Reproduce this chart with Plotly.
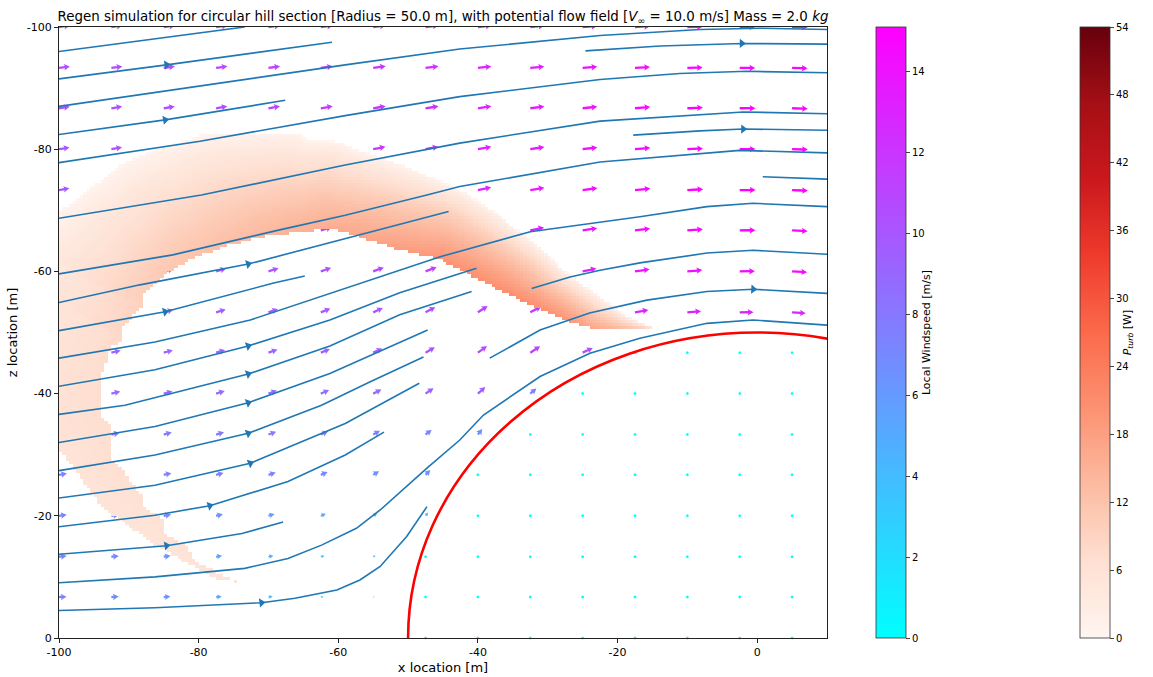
import numpy as np
import plotly.graph_objects as go

# ---------------- figure geometry ----------------
FIG_W, FIG_H = 1153, 677
MARGIN = dict(l=59, r=326, t=27, b=39)
X_MIN, X_MAX = -100.0, 10.0
Z_BOTTOM, Z_TOP = 0.0, -100.0
PLOT_W = FIG_W - MARGIN["l"] - MARGIN["r"]
PLOT_H = FIG_H - MARGIN["t"] - MARGIN["b"]
PX_X = PLOT_W / (X_MAX - X_MIN)      # screen pixels per metre (x)
PX_Z = PLOT_H / (Z_BOTTOM - Z_TOP)   # screen pixels per metre (z)

# ---------------- scenario ----------------
HILL_RADIUS = 50.0
V_INF = 10.0
MASS = 2.0
WIND_MAX = 15.11
POWER_MAX = 54.0

# ---------------- wind vectors (quiver grid) ----------------
grid_x = [-100.0, -92.5, -85.0, -77.5, -70.0, -62.5, -55.0, -47.5, -40.0,
          -32.5, -25.0, -17.5, -10.0, -2.5, 5.0]
grid_z = [-100.0, -93.3, -86.7, -80.0, -73.3, -66.7, -60.0, -53.3, -46.7,
          -40.0, -33.3, -26.7, -20.0, -13.3, -6.7, 0.0]

N = None
# local wind speed [m/s] per grid node (rows follow grid_z, columns grid_x)
wind_speed = [
    [10.5, 10.6, 10.8, 11.0, 11.3, 11.6, 12.0, 12.4, 12.9, 13.4, 13.9, 14.3, 14.6, 14.7, 14.7],
    [10.4, 10.5, 10.7, 10.9, 11.2, 11.5, 12.0, 12.4, 12.9, 13.4, 13.9, 14.3, 14.6, 14.7, 14.7],
    [10.3, 10.4, 10.6, 10.8, 11.1, 11.5, 12.0, 12.5, 13.0, 13.5, 14.0, 14.5, 14.8, 14.9, 14.9],
    [10.1, 10.3, 10.5, 10.7, 11.0, 11.4, 11.9, 12.4, 13.0, 13.6, 14.1, 14.6, 14.9, 15.0, 15.0],
    [10.0, 10.1, 10.3, 10.5, 10.8, 11.2, 11.7, 12.3, 12.9, 13.6, 14.2, 14.7, 15.0, 15.1, 15.0],
    [9.8, 9.9, 10.0, 10.2, 10.5, 10.9, 11.4, 12.0, 12.7, 13.4, 14.0, 14.5, 14.8, 14.9, 14.8],
    [9.6, 9.7, 9.8, 9.9, 10.1, 10.4, 10.8, 11.3, 11.9, 12.7, 13.4, 14.0, 14.3, 14.4, 14.3],
    [9.4, 9.4, 9.4, 9.5, 9.6, 9.8, 10.1, 10.5, 11.0, 11.8, 12.4, 12.9, 13.1, 13.1, 13.0],
    [9.0, 9.0, 9.0, 9.0, 9.1, 9.3, 9.6, 10.2, 10.6, 11.2, 10.6, 0, 0, 0, 0],
    [8.7, 8.7, 8.7, 8.6, 8.6, 8.6, 8.8, 9.2, 9.5, 7.6, 0, 0, 0, 0, 0],
    [8.0, 8.0, 7.9, 7.9, 7.8, 7.6, 7.4, 7.3, 6.8, 0, 0, 0, 0, 0, 0],
    [7.6, 7.6, 7.5, 7.4, 7.3, 7.0, 6.6, 6.5, 0, 0, 0, 0, 0, 0, 0],
    [7.4, 7.3, 7.1, 6.6, 6.0, 5.2, 4.5, 4.0, 0, 0, 0, 0, 0, 0, 0],
    [7.3, 7.1, 6.6, 5.7, 4.8, 3.6, 2.6, 0, 0, 0, 0, 0, 0, 0, 0],
    [7.2, 7.0, 6.4, 5.4, 4.0, 2.6, 1.4, 0, 0, 0, 0, 0, 0, 0, 0],
    [N, N, N, N, N, N, N, 0, 0, 0, 0, 0, 0, 0, 0],
]
# wind direction on screen [deg, counter-clockwise from +x]
wind_angle = [
    [7.5, 7.5, 7.5, 7.5, 7.5, 7, 7, 6.5, 6, 5, 4, 3, 1.5, 0, -1],
    [8, 8, 8, 8, 8, 8, 7.5, 7, 6.5, 5.5, 4.5, 3.5, 2, 0, -1.5],
    [8.5, 9, 9.5, 10, 10, 10, 9.5, 9, 8.5, 7.5, 6, 4.5, 2.5, 0.5, -1.5],
    [9.5, 10, 10.5, 11, 11.5, 11.5, 11, 10.5, 10, 9, 7, 5, 3, 0.5, -1.5],
    [10, 11, 12, 12.5, 13, 14, 14, 13.5, 12, 10, 8, 6, 3.5, 0.5, -2],
    [11, 12, 13, 14, 15, 16, 17, 17, 15.5, 12, 9, 7, 4.5, 1, -2.5],
    [12, 13, 14.5, 16, 17.5, 19, 20.5, 21, 19, 16, 12, 8, 5, 1, -3],
    [12, 13.5, 15, 17, 19, 21.5, 24, 28, 33, 28, 18, 10, 5, 0.5, -4],
    [11.5, 13, 15, 17, 19.5, 22, 25, 30, 36, 33, 25, 0, 0, 0, 0],
    [11, 12.5, 14.5, 17, 19.5, 23, 27, 34, 42, 40, 0, 0, 0, 0, 0],
    [10.5, 12, 14, 16.5, 19.5, 23.5, 29, 37, 52, 0, 0, 0, 0, 0, 0],
    [9.5, 10.5, 12.5, 14.5, 18, 23, 31, 45, 0, 0, 0, 0, 0, 0, 0],
    [8, 9, 10.5, 12.5, 15.5, 21, 31, 52, 0, 0, 0, 0, 0, 0, 0],
    [6, 6.5, 7.5, 9, 11.5, 16, 27, 0, 0, 0, 0, 0, 0, 0, 0],
    [3, 3.5, 4, 5, 6, 9, 16, 0, 0, 0, 0, 0, 0, 0, 0],
    [0] * 15,
]

# ---------------- streamlines (x, z) ----------------
sl_01 = [(-100, -96.0), (-87.0, -97.9), (-73.4, -100.0)]
sl_02 = [(-100, -91.5), (-84.6, -93.8), (-60.9, -97.5)]
sl_03 = [(-100, -87.0), (-79.8, -90.4), (-59.0, -93.8), (-42.6, -96.4), (-22.5, -98.6),
         (-8.2, -99.6), (0.4, -99.8), (10.0, -99.6)]
sl_04 = [(-24.6, -96.1), (-13.9, -96.9), (-2.2, -97.3), (10.0, -97.2)]
sl_05 = [(-100, -82.4), (-84.8, -84.8), (-67.6, -88.0)]
sl_06 = [(-100, -77.8), (-79.8, -81.3), (-59.0, -85.5), (-42.6, -88.6), (-22.5, -91.4),
         (-11.1, -92.4), (-1.5, -92.75), (10.0, -92.5)]
sl_07 = [(-100, -68.7), (-79.6, -72.5), (-59.0, -77.4), (-42.6, -81.0), (-22.5, -84.6),
         (-2.0, -86.1), (10.0, -85.8)]
sl_08 = [(-17.75, -82.3), (-8.2, -83.0), (-2.0, -83.3), (10.0, -83.1)]
sl_09 = [(-100, -59.6), (-83.7, -62.7), (-68.4, -66.8), (-59.0, -69.2), (-47.3, -72.5),
         (-42.6, -73.9), (-22.5, -77.9), (-2.5, -79.8), (10.0, -79.4)]
sl_10 = [(0.8, -75.5), (10.0, -75.1)]
sl_11 = [(-100, -54.9), (-88.4, -57.8), (-72.9, -61.2), (-59.0, -65.4), (-44.2, -69.8)]
sl_12 = [(-100, -50.3), (-84.8, -53.4), (-69.4, -58.05), (-64.8, -59.25)]
sl_13 = [(-100, -45.8), (-86.25, -48.45), (-72.6, -52.05), (-61.2, -56.4), (-45.4, -62.4),
         (-32.5, -66.5), (-16.8, -68.95), (-7.2, -70.6), (-0.6, -71.15), (10.0, -70.6)]
sl_14 = [(-100, -41.2), (-86.25, -43.9), (-72.9, -47.8), (-61.2, -52.05), (-51.2, -56.5),
         (-40.2, -60.5)]
sl_15 = [(-100, -36.6), (-90.55, -38.1), (-72.9, -43.2), (-61.2, -47.8), (-51.2, -52.9),
         (-40.9, -56.7)]
sl_16 = [(-100, -32.0), (-86.25, -34.6), (-72.9, -38.5), (-61.2, -43.3), (-47.2, -50.4)]
sl_17 = [(-100, -27.4), (-86.25, -29.95), (-72.9, -33.5), (-62.4, -38.1), (-55.5, -41.9),
         (-47.8, -46.0)]
sl_18 = [(-100, -22.9), (-86.25, -25.0), (-72.6, -28.6), (-59.0, -35.1), (-48.4, -41.7)]
sl_19 = [(-100, -18.2), (-86.25, -20.1), (-78.4, -21.65), (-67.2, -25.6), (-59.0, -29.95),
         (-53.45, -33.7)]
sl_20 = [(-100, -13.7), (-84.6, -15.1), (-73.8, -17.1), (-67.9, -19.0)]
sl_21 = [(-100, -9.05), (-86.25, -10.0), (-73.4, -11.4), (-67.2, -13.0), (-62.4, -15.2),
         (-57.4, -17.95), (-54.0, -20.95), (-50.2, -24.8), (-47.3, -27.8), (-42.6, -32.4),
         (-39.2, -36.5), (-31.1, -42.8), (-23.95, -46.6), (-16.8, -49.05), (-7.2, -51.5),
         (-0.6, -52.05), (10.0, -51.2)]
sl_22 = [(-100, -4.5), (-86.25, -4.96), (-71.0, -5.78), (-66.2, -6.5), (-60.2, -7.86),
         (-56.9, -9.5), (-54.0, -11.7), (-50.2, -16.6), (-47.3, -21.5)]
sl_23 = [(-32.3, -57.2), (-26.8, -59.1), (-22.5, -60.2), (-16.8, -61.4), (-7.2, -63.0),
         (-0.56, -63.45), (10.0, -62.8)]
sl_24 = [(-38.3, -45.8), (-31.1, -50.4), (-24.0, -53.2), (-15.8, -55.3), (-7.2, -56.7),
         (-0.56, -57.07), (10.0, -56.4)]

streamlines = [sl_01, sl_02, sl_03, sl_04, sl_05, sl_06, sl_07, sl_08, sl_09, sl_10, sl_11,
               sl_12, sl_13, sl_14, sl_15, sl_16, sl_17, sl_18, sl_19, sl_20, sl_21, sl_22,
               sl_23, sl_24]
# arrowheads on streamlines: (line, x position)
stream_arrows = [(sl_02, -84.6), (sl_04, -2.2), (sl_05, -84.8), (sl_08, -2.0),
                 (sl_11, -72.9), (sl_12, -84.8), (sl_14, -72.9), (sl_15, -72.9),
                 (sl_16, -72.9), (sl_17, -72.9), (sl_18, -72.6), (sl_19, -78.4),
                 (sl_20, -84.6), (sl_22, -71.0), (sl_24, -0.56)]

# ---------------- turbine power band ----------------
# upper-left edge of the band (left axis -> right tip)
band_outer = [(-100.0, -69.6), (-91.26, -77.4), (-86.0, -79.9), (-78.85, -82.6), (-65.5, -82.6),
              (-64.5, -81.5), (-59.7, -81.2), (-57.9, -80.1), (-50.2, -77.1), (-45.4, -74.9),
              (-41.6, -72.8), (-37.3, -69.5), (-30.6, -63.5), (-27.8, -60.2), (-22.5, -55.9),
              (-18.7, -52.6), (-14.4, -50.5)]
# lower edge of the band (right tip -> bottom of left leg)
band_inner = [(-14.4, -50.5), (-23.9, -50.7), (-27.75, -52.05), (-32.5, -54.5), (-36.4, -56.7),
              (-41.1, -59.4), (-45.4, -61.9), (-48.3, -62.7), (-52.6, -64.0), (-56.9, -65.7),
              (-61.2, -67.05), (-71.0, -65.7), (-75.75, -64.3), (-78.6, -63.0), (-80.5, -62.4),
              (-84.8, -59.4), (-87.9, -56.1), (-87.9, -54.5), (-91.0, -50.7), (-91.0, -48.5),
              (-92.45, -47.95), (-93.9, -43.0), (-94.1, -36.5), (-92.45, -34.9), (-92.45, -29.4),
              (-91.0, -27.8), (-89.6, -25.3), (-87.9, -22.9), (-87.9, -21.5), (-84.8, -19.3),
              (-84.8, -17.1), (-81.7, -14.9), (-80.5, -12.5), (-74.55, -9.2)]
# power reached along the lower edge [W]
band_inner_power = [9, 17, 20, 21, 21, 20.5, 20, 19, 18, 17, 16, 14, 13, 12.5, 12, 11, 10, 9.5,
                    8.5, 8, 7.5, 7.2, 7.0, 6.9, 6.8, 6.7, 6.6, 6.5, 6.4, 6.3, 6.2, 6.1, 6.0, 5.9]
# lower-left edge of the leg
band_leg_edge = [(-76.9, -9.4), (-86.25, -15.2), (-94.1, -21.8), (-100.0, -31.1)]

REDS = [[0.0, "#fff5f0"], [0.125, "#fee0d2"], [0.25, "#fcbba1"], [0.375, "#fc9272"],
        [0.5, "#fb6a4a"], [0.625, "#ef3b2c"], [0.75, "#cb181d"], [0.875, "#a50f15"],
        [1.0, "#67000d"]]
COOL = [[0.0, "rgb(0,255,255)"], [1.0, "rgb(255,0,255)"]]
STREAM_BLUE = "#1f77b4"


def cool(v):
    t = min(max(v / WIND_MAX, 0.0), 1.0)
    return f"rgb({round(255 * t)},{round(255 * (1 - t))},255)"


def arrow_path(x0, z0, speed, ang_deg):
    """Quiver-style arrow polygon, tail at (x0, z0), drawn in screen pixels."""
    L = 1.05 * speed
    shaft, head_w, head_l, head_ax = 2.3, 6.4, 5.8, 5.0
    s = 1.0 if L >= head_l * 1.2 else L / (head_l * 1.2)
    sw, hw, hl, ha = shaft * s, head_w * s, head_l * s, head_ax * s
    pts = [(0, -sw / 2), (L - ha, -sw / 2), (L - hl, -hw / 2), (L, 0),
           (L - hl, hw / 2), (L - ha, sw / 2), (0, sw / 2)]
    a = np.radians(ang_deg)
    ca, sa = np.cos(a), np.sin(a)
    out = []
    for u, v in pts:
        dx = u * ca - v * sa
        dy = u * sa + v * ca
        out.append((x0 + dx / PX_X, z0 - dy / PX_Z))
    return "M " + " L ".join(f"{x:.3f},{z:.3f}" for x, z in out) + " Z"


def inside_polygon(px, pz, poly):
    res = np.zeros(px.shape, dtype=bool)
    n = len(poly)
    j = n - 1
    for i in range(n):
        xi, zi = poly[i]
        xj, zj = poly[j]
        cross = ((zi > pz) != (zj > pz))
        xint = (xj - xi) * (pz - zi) / ((zj - zi) if zj != zi else 1e-12) + xi
        res ^= cross & (px < xint)
        j = i
    return res


def polyline_distance(px, pz, line, values=None):
    """Screen-space distance to a polyline, and the value carried along it."""
    best = np.full(px.shape, np.inf)
    val = np.zeros(px.shape)
    for k in range(len(line) - 1):
        ax, az = line[k][0] * PX_X, line[k][1] * PX_Z
        bx, bz = line[k + 1][0] * PX_X, line[k + 1][1] * PX_Z
        dx, dz = bx - ax, bz - az
        l2 = dx * dx + dz * dz
        t = np.clip(((px - ax) * dx + (pz - az) * dz) / l2, 0, 1)
        d = np.hypot(px - (ax + t * dx), pz - (az + t * dz))
        m = d < best
        best[m] = d[m]
        if values is not None:
            v = values[k] + t * (values[k + 1] - values[k])
            val[m] = v[m]
    return best, val


# ---------------- power field on a grid ----------------
hx = np.arange(X_MIN + 0.25, X_MAX, 0.5)
hz = np.arange(Z_TOP + 0.25, Z_BOTTOM, 0.5)
XX, ZZ = np.meshgrid(hx, hz)
band_polygon = band_outer + band_inner[1:] + band_leg_edge
mask = inside_polygon(XX, ZZ, band_polygon)
SX, SZ = XX * PX_X, ZZ * PX_Z
d_in, peak = polyline_distance(SX, SZ, band_inner, band_inner_power)
d_o1, _ = polyline_distance(SX, SZ, band_outer)
d_o2, _ = polyline_distance(SX, SZ, band_leg_edge)
frac_arc = d_o1 / (d_o1 + d_in + 1e-9)
frac_leg = d_o2 / (d_o2 + d_in + 1e-9)
frac = np.minimum(frac_arc, 0.75 + 0.25 * frac_leg)
power = np.where(mask, peak * frac ** 0.7, np.nan)

fig = go.Figure()

# quiver arrows (below the power field), dots where the air is still
shapes = []
dot_x, dot_z = [], []
for r, z in enumerate(grid_z):
    for c, x in enumerate(grid_x):
        s = wind_speed[r][c]
        if s is None:
            continue
        if s < 0.3:
            dot_x.append(x)
            dot_z.append(z)
            continue
        shapes.append(dict(type="path", path=arrow_path(x, z, s, wind_angle[r][c]),
                           xref="x", yref="y", fillcolor=cool(s),
                           line=dict(width=0), layer="below"))

fig.add_trace(go.Scatter(
    x=dot_x, y=dot_z, mode="markers", cliponaxis=False, hoverinfo="skip",
    marker=dict(symbol="hexagon", size=3, color=[0.0] * len(dot_x), colorscale=COOL,
                cmin=0, cmax=WIND_MAX, showscale=True,
                colorbar=dict(x=(876 - MARGIN["l"]) / PLOT_W, xanchor="left", xpad=0,
                              y=0.5, yanchor="middle", len=1, lenmode="fraction", ypad=0,
                              thickness=30, thicknessmode="pixels",
                              tickvals=list(range(0, 15, 2)), ticks="outside", ticklen=4,
                              tickfont=dict(size=10), outlinewidth=0.8, outlinecolor="#333",
                              title=dict(text="Local Windspeed [m/s]", side="right",
                                         font=dict(size=11)))),
))

fig.add_trace(go.Heatmap(
    x=hx, y=hz, z=power, colorscale=REDS, zmin=0, zmax=POWER_MAX, hoverinfo="skip",
    colorbar=dict(x=(1080 - MARGIN["l"]) / PLOT_W, xanchor="left", xpad=0,
                  y=0.5, yanchor="middle", len=1, lenmode="fraction", ypad=0,
                  thickness=30, thicknessmode="pixels",
                  tickvals=list(range(0, 55, 6)), ticks="outside", ticklen=4,
                  tickfont=dict(size=10), outlinewidth=0.8, outlinecolor="#333",
                  title=dict(text="<i>P</i><sub><i>turb</i></sub> [W]", side="right",
                             font=dict(size=11))),
))

# streamlines
lx, lz = [], []
for line in streamlines:
    lx += [p[0] for p in line] + [None]
    lz += [p[1] for p in line] + [None]
fig.add_trace(go.Scatter(x=lx, y=lz, mode="lines", hoverinfo="skip",
                         line=dict(color=STREAM_BLUE, width=1.6)))

ax_x, ax_z, ax_ang = [], [], []
for line, xa in stream_arrows:
    xs = [p[0] for p in line]
    zs = [p[1] for p in line]
    za = float(np.interp(xa, xs, zs))
    zb = float(np.interp(xa + 0.5, xs, zs))
    ang = np.degrees(np.arctan2(-(zb - za) * PX_Z, 0.5 * PX_X))
    ax_x.append(xa)
    ax_z.append(za)
    ax_ang.append(-ang)
fig.add_trace(go.Scatter(x=ax_x, y=ax_z, mode="markers", hoverinfo="skip",
                         marker=dict(symbol="triangle-right", size=8, color=STREAM_BLUE,
                                     angle=ax_ang, line=dict(width=0))))

# hill outline
shapes.append(dict(type="circle", xref="x", yref="y", x0=-HILL_RADIUS, x1=HILL_RADIUS,
                   y0=-HILL_RADIUS, y1=HILL_RADIUS, line=dict(color="red", width=2.6),
                   layer="above"))

x_ticks = [-100, -80, -60, -40, -20, 0]
z_ticks = [-100, -80, -60, -40, -20, 0]
axis_style = dict(showgrid=False, zeroline=False, showline=True, mirror=True,
                  linecolor="#222", linewidth=1, ticks="outside", ticklen=4,
                  tickcolor="#222", tickfont=dict(size=11), automargin=False)

title = (f"Regen simulation for circular hill section [Radius = {HILL_RADIUS:.1f} m], "
         f"with potential flow field [<i>V</i><sub>∞</sub> = {V_INF:.1f} m/s] "
         f"Mass = {MASS:.1f} <i>kg</i>")

fig.update_layout(
    width=FIG_W, height=FIG_H, margin=MARGIN, showlegend=False,
    paper_bgcolor="white", plot_bgcolor="white",
    font=dict(family="DejaVu Sans", size=11, color="black"),
    title=dict(text=title, x=0.5, xref="paper", xanchor="center",
               y=1 - 16 / FIG_H, yref="container", yanchor="middle",
               font=dict(size=13.4)),
    xaxis=dict(range=[X_MIN, X_MAX], tickvals=x_ticks,
               ticktext=[str(v) for v in x_ticks],
               title=dict(text="x location [m]", standoff=4), **axis_style),
    yaxis=dict(range=[Z_BOTTOM, Z_TOP], tickvals=z_ticks,
               ticktext=[str(v) for v in z_ticks],
               title=dict(text="z location [m]", standoff=6), **axis_style),
    shapes=shapes,
)

fig.write_html("out.html")
